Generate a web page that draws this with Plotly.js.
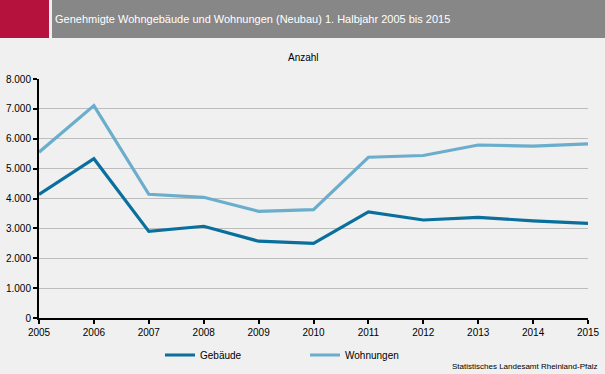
<!DOCTYPE html>
<html><head><meta charset="utf-8">
<script src="https://cdn.plot.ly/plotly-3.0.1.min.js"></script>
<style>html,body{margin:0;padding:0;background:#eff0ef;}</style>
</head><body><div id="chart" style="width:605px;height:374px;"></div>
<script>
const years = [2005,2006,2007,2008,2009,2010,2011,2012,2013,2014,2015];
const gebaeude = [4140,5330,2900,3070,2570,2500,3550,3280,3370,3250,3170];
const wohnungen = [5550,7110,4140,4040,3570,3630,5380,5440,5790,5750,5830];
const yTicks = [0,1000,2000,3000,4000,5000,6000,7000,8000];
const yTickText = ['0','1.000','2.000','3.000','4.000','5.000','6.000','7.000','8.000'];
const font = 'Liberation Sans, Arial, sans-serif';

const traces = [
  {x: years, y: gebaeude, name: 'Gebäude', mode: 'lines', line: {color: '#0a6f9d', width: 3.2}},
  {x: years, y: wohnungen, name: 'Wohnungen', mode: 'lines', line: {color: '#6badcc', width: 3.2}}
];
const layout = {
  width: 605, height: 374,
  paper_bgcolor: '#eff0ef', plot_bgcolor: '#eff0ef',
  margin: {l: 39, r: 17, t: 79, b: 56},
  font: {family: font, size: 10, color: '#000'},
  showlegend: true,
  legend: {orientation: 'h', xref: 'container', yref: 'container', x: 160/605, y: 1 - 355/374,
    xanchor: 'left', yanchor: 'middle',
    font: {size: 10, family: font}, traceorder: 'normal', entrywidth: 100, bgcolor: 'rgba(0,0,0,0)'},
  xaxis: {range: [2005, 2015], tickvals: years, ticktext: years.map(String),
    showgrid: false, zeroline: false, showline: true, linecolor: '#000', linewidth: 2,
    ticks: 'outside', ticklen: 4, tickcolor: '#000', tickwidth: 2, tickfont: {size: 10}},
  yaxis: {range: [0, 8000], tickvals: yTicks, ticktext: yTickText,
    showgrid: true, gridcolor: '#bdbdbd', gridwidth: 1, zeroline: false,
    showline: true, linecolor: '#000', linewidth: 2,
    ticks: 'outside', ticklen: 4, tickcolor: '#000', tickwidth: 2, tickfont: {size: 10}},
  shapes: [
    {type: 'rect', xref: 'paper', yref: 'paper', x0: -39/549, x1: 10/549, y0: 1+41/239, y1: 1+79/239,
      fillcolor: '#b5123e', line: {width: 0}},
    {type: 'rect', xref: 'paper', yref: 'paper', x0: 13/549, x1: 566/549, y0: 1+41/239, y1: 1+79/239,
      fillcolor: '#878787', line: {width: 0}}
  ],
  annotations: [
    {text: 'Genehmigte Wohngebäude und Wohnungen (Neubau) 1. Halbjahr 2005 bis 2015', xref: 'paper', yref: 'paper',
      x: 14/549, y: 1+60/239, xanchor: 'left', yanchor: 'middle', showarrow: false,
      font: {size: 11, color: '#ffffff', family: font}},
    {text: 'Anzahl', xref: 'paper', yref: 'paper', x: 264/549, y: 1+22/239, xanchor: 'center', yanchor: 'middle',
      showarrow: false, font: {size: 10, color: '#000', family: font}},
    {text: 'Statistisches Landesamt Rheinland-Pfalz', xref: 'paper', yref: 'paper', x: 560/549, y: -48/239,
      xanchor: 'right', yanchor: 'middle', showarrow: false, font: {size: 8, color: '#000', family: font}}
  ]
};
Plotly.newPlot('chart', traces, layout, {displayModeBar: false, staticPlot: true});
</script></body></html>
